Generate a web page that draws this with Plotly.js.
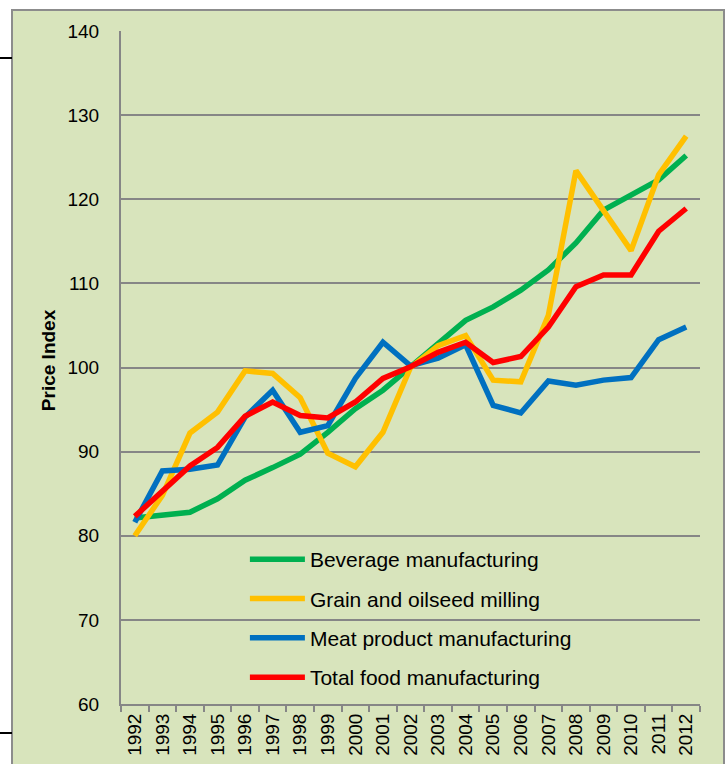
<!DOCTYPE html>
<html>
<head>
<meta charset="utf-8">
<script src="https://cdn.plot.ly/plotly-3.0.1.min.js"></script>
<style>
html,body{margin:0;padding:0;background:#ffffff;width:727px;height:764px;overflow:hidden;}
#panel{position:absolute;left:11px;top:9px;width:714px;height:760px;background:#d8e4bc;border:2px solid #8c8c8c;box-sizing:border-box;}
.crop{position:absolute;left:0;width:12px;height:2px;background:#000;}
#chart{position:absolute;left:0;top:0;width:727px;height:764px;}
</style>
</head>
<body>
<div id="panel"></div>
<div class="crop" style="top:57px"></div>
<div class="crop" style="top:732px"></div>
<div id="chart"></div>
<script>
const years = ["1992","1993","1994","1995","1996","1997","1998","1999","2000","2001","2002","2003","2004","2005","2006","2007","2008","2009","2010","2011","2012"];
const beverage = [82.1,82.4,82.8,84.4,86.6,88.1,89.7,92.3,95.1,97.3,100.0,102.9,105.6,107.2,109.2,111.6,114.8,118.7,120.5,122.3,125.2];
const grain    = [80.0,84.8,92.2,94.7,99.6,99.3,96.4,89.8,88.2,92.3,100.0,102.6,103.8,98.5,98.3,106.2,123.4,118.7,113.9,122.9,127.5];
const meat     = [81.6,87.7,87.9,88.4,94.1,97.3,92.3,93.1,98.7,103.0,100.2,101.1,102.7,95.5,94.6,98.4,97.9,98.5,98.8,103.3,104.8];
const total    = [82.3,85.2,88.3,90.5,94.2,95.9,94.3,94.0,95.9,98.7,100.1,101.8,103.0,100.6,101.3,104.8,109.6,111.0,111.0,116.2,118.9];
const seriesNames = ["Beverage manufacturing","Grain and oilseed milling","Meat product manufacturing","Total food manufacturing"];
const seriesColors = ["#00b050","#ffc000","#0070c0","#ff0000"];
const seriesData = [beverage, grain, meat, total];
const yTicks = [60,70,80,90,100,110,120,130,140];
const yTitle = "Price Index";

const traces = seriesData.map((d,i)=>({
  type:'scatter', mode:'lines', x:years, y:d, name:seriesNames[i],
  legendgroup:'g'+i,
  line:{color:seriesColors[i], width:5.5}
}));

const layout = {
  width:727, height:764,
  margin:{l:121, r:27, t:31, b:60},
  paper_bgcolor:'rgba(0,0,0,0)',
  plot_bgcolor:'rgba(0,0,0,0)',
  font:{family:'Liberation Sans, Arial, sans-serif', size:19, color:'#000'},
  showlegend:true,
  legend:{x:0.214, xanchor:'left', y:0.245, yanchor:'top', bgcolor:'rgba(0,0,0,0)',
          font:{size:21}, traceorder:'grouped', tracegroupgap:9, itemwidth:55},
  xaxis:{type:'category', tickangle:-90, showgrid:false, showline:true, linecolor:'#868686', linewidth:2,
         ticks:'outside', tickson:'boundaries', ticklen:6, tickcolor:'#868686', tickwidth:2,
         tickfont:{size:19}, range:[-0.5,20.5], zeroline:false},
  yaxis:{range:[60,140], tickvals:yTicks, ticktext:yTicks.map(String), showgrid:true, gridcolor:'#868686', gridwidth:2,
         showline:true, linecolor:'#868686', linewidth:2, ticks:'', zeroline:false,
         ticklabelstandoff:16, tickfont:{size:19}},
  annotations:[{text:'<b>'+yTitle+'</b>', xref:'paper', yref:'paper', x:-0.126, y:0.511,
                xanchor:'center', yanchor:'middle', textangle:-90, showarrow:false, font:{size:19}}]
};
Plotly.newPlot('chart', traces, layout, {displayModeBar:false, staticPlot:true});
</script>
</body>
</html>
